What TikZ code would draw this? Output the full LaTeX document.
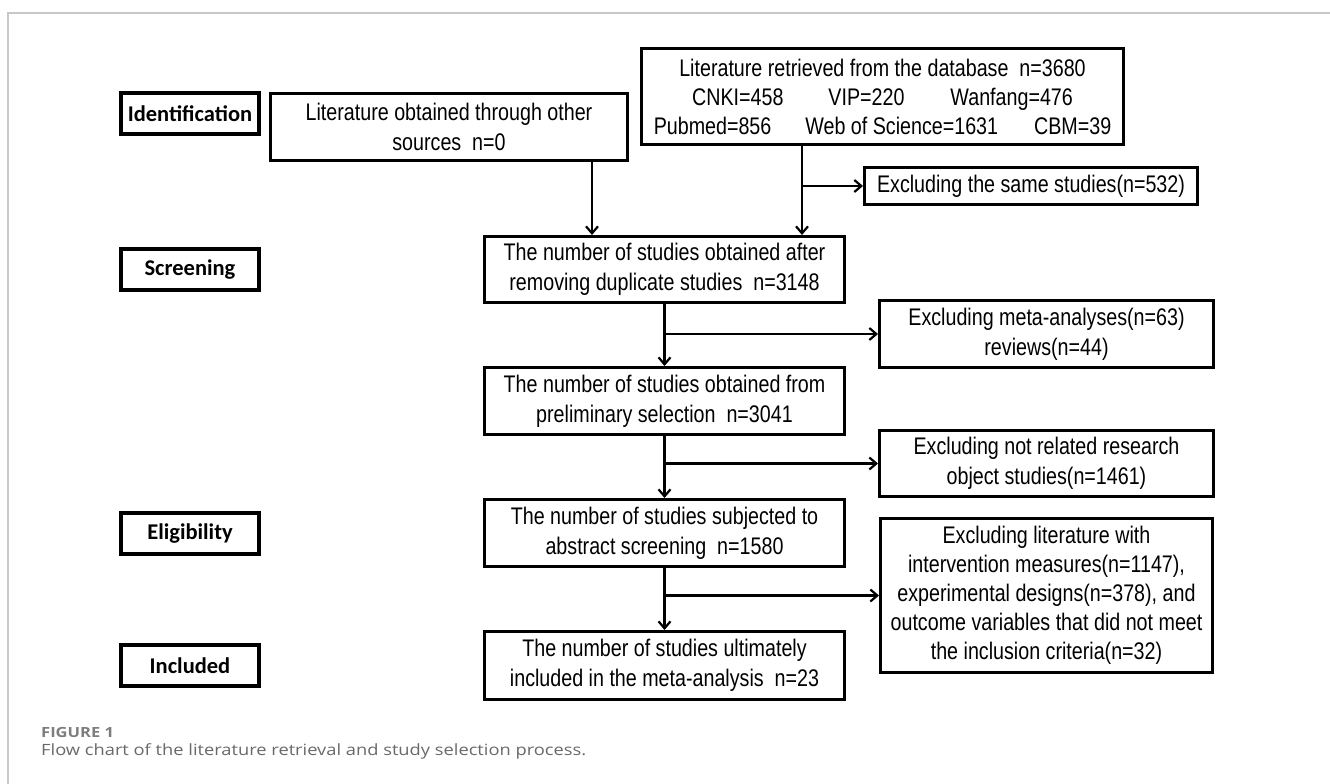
\documentclass[tikz,border=0pt]{standalone}
\usepackage{fontspec}
\usetikzlibrary{arrows.meta,calc}
\setmainfont{Liberation Sans}
\newfontfamily\boxfont{Liberation Sans}[FakeStretch=0.82]
\newfontfamily\labfont{Carlito}
\newfontfamily\capfont{Open Sans}[FakeStretch=1.18]
\definecolor{framegray}{RGB}{200,200,200}
\definecolor{figgray}{RGB}{125,125,125}
\definecolor{capgray}{RGB}{105,105,105}
\begin{document}
\begin{tikzpicture}[x=1pt,y=-1pt,
  box/.style={draw=black,line width=3pt,rectangle,inner sep=0pt,align=center,
    font=\boxfont\fontsize{24}{30}\selectfont},
  stage/.style={draw=black,line width=3.6pt,rectangle,inner sep=0pt,
    minimum width=138pt,minimum height=41pt,
    font=\labfont\bfseries\fontsize{22.5}{26}\selectfont},
  arr/.style={line width=2.2pt,-{Straight Barb[length=7pt,width=12pt,line width=2.2pt]}}]
\useasboundingbox (0,0) rectangle (1330,784);
\fill[white] (0,0) rectangle (1330,784);
\draw[framegray,line width=2pt] (8,784) -- (8,13) -- (1330,13);

% stage labels
\node[stage] (ident) at (190,113.5) {Identification};
\node[stage] (screen) at (190,269.5) {Screening};
\node[stage] (elig) at (190,533.5) {Eligibility};
\node[stage] (incl) at (190,665.5) {Included};

% boxes
\node[box,minimum width=357pt,minimum height=67pt] (other) at (449,127)
  {Literature obtained through other\\sources\ \ n=0};
\node[box,minimum width=482pt,minimum height=96pt,font=\boxfont\fontsize{24}{29}\selectfont] (db) at (882.5,96.5)
  {Literature retrieved from the database\ \ n=3680\\
   CNKI=458\hspace{45pt}VIP=220\hspace{46pt}Wanfang=476\\
   Pubmed=856\hspace{34pt}Web of Science=1631\hspace{36pt}CBM=39};
\node[box,minimum width=333pt,minimum height=37pt] (same) at (1031,186)
  {Excluding the same studies(n=532)};
\node[box,minimum width=360pt,minimum height=66pt] (s3148) at (664.5,269.5)
  {The number of studies obtained after\\removing duplicate studies\ \ n=3148};
\node[box,minimum width=334pt,minimum height=67pt] (meta) at (1046.5,334)
  {Excluding meta-analyses(n=63)\\reviews(n=44)};
\node[box,minimum width=360pt,minimum height=67pt] (s3041) at (664.5,401)
  {The number of studies obtained from\\preliminary selection\ \ n=3041};
\node[box,minimum width=334pt,minimum height=66pt] (notrel) at (1046.5,463.5)
  {Excluding not related research\\object studies(n=1461)};
\node[box,minimum width=360pt,minimum height=67pt] (s1580) at (664.5,533)
  {The number of studies subjected to\\abstract screening\ \ n=1580};
\node[box,minimum width=332pt,minimum height=154pt,font=\boxfont\fontsize{24}{29}\selectfont] (exlit) at (1046.5,595.5)
  {Excluding literature with\\intervention measures(n=1147),\\experimental designs(n=378), and\\outcome variables that did not meet\\the inclusion criteria(n=32)};
\node[box,minimum width=360pt,minimum height=68pt] (final) at (664.5,665.5)
  {The number of studies ultimately\\included in the meta-analysis\ \ n=23};

% connectors
\coordinate (xo) at (592,0);
\coordinate (xd) at (802,0);
\draw[arr] (other.south -| xo) -- (s3148.north -| xo);
\draw[arr] (db.south -| xd) -- (s3148.north -| xd);
\draw[arr] (xd |- same.west) -- (same.west);
\draw[arr] (s3148.south) -- (s3041.north);
\draw[arr] (s3148.south |- meta.west) -- (meta.west);
\draw[arr] (s3041.south) -- (s1580.north);
\draw[arr] (s3041.south |- notrel.west) -- (notrel.west);
\draw[arr] (s1580.south) -- (final.north);
\draw[arr] (s1580.south |- exlit.west) -- (exlit.west);

% caption
\node[anchor=west,inner sep=0pt,text=figgray,font=\capfont\bfseries\fontsize{14}{16}\selectfont] (fig) at (41,732) {FIGURE 1};
\node[anchor=west,inner sep=0pt,text=capgray,font=\capfont\fontsize{15.5}{18}\selectfont] (cap) at (41,751) {Flow chart of the literature retrieval and study selection process.};
\end{tikzpicture}
\end{document}
